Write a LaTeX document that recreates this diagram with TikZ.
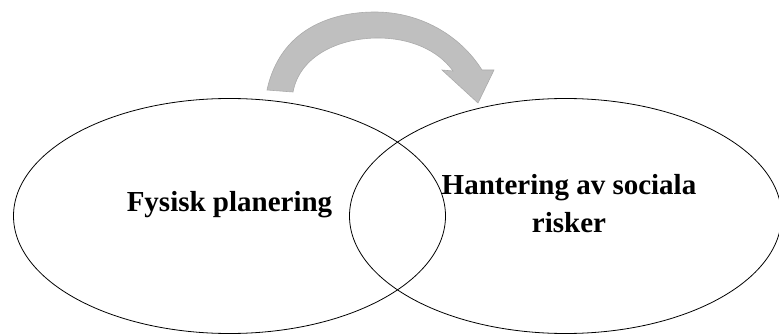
\documentclass[tikz,border=0pt]{standalone}
\usepackage{fontspec}
\setmainfont{Liberation Serif}
\usetikzlibrary{shapes.geometric,positioning}
\tikzset{
  venn/.style={ellipse, draw=black, line width=0.8pt, minimum width=432pt, minimum height=235pt, inner sep=0pt},
  vennlabel/.style={font=\fontsize{29}{38}\selectfont\bfseries, align=center, inner sep=0pt},
  bigarrow/.style={fill=black!25, draw=black!33, line width=0.6pt, line join=miter},
}
\begin{document}
\begin{tikzpicture}[x=1pt, y=-1pt]
\useasboundingbox (0,0) rectangle (779,334);

% Overlapping ellipses
\node[venn] (fysisk) at (229.5,216) {};
\node[venn] (social) at (565.5,216) {};

% Labels
\node[vennlabel, yshift=11pt] (fysisklabel) at (fysisk.center) {Fysisk planering};
\node[vennlabel, xshift=3.5pt, yshift=12pt] (sociallabel) at (social.center) {Hantering av sociala\\risker};

% Curved arrow
\draw[bigarrow] (267,90) .. controls (280,30) and (330,12) .. (375,12)
  .. controls (420,12) and (460,35) .. (482,70) -- (494,70) -- (478,103) -- (442,70) -- (453,71)
  .. controls (438,50) and (410,38) .. (378,38)
  .. controls (340,38) and (300,55) .. (293,92) -- cycle;

\end{tikzpicture}
\end{document}
